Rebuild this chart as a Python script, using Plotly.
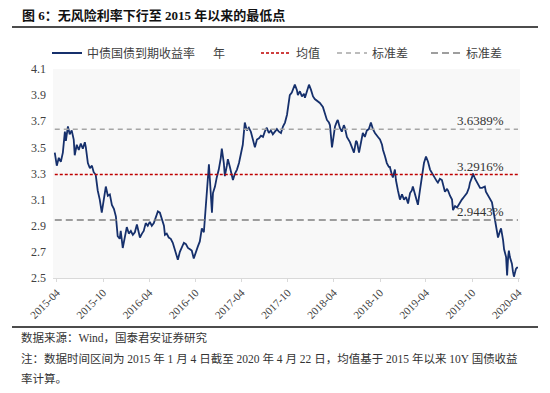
import plotly.graph_objects as go

# ---------------- data ----------------
dates = [
    "2015-03-24", "2015-03-28", "2015-04-01", "2015-04-09", "2015-04-17", "2015-04-25",
    "2015-05-03", "2015-05-07", "2015-05-15", "2015-05-22", "2015-05-30",
    "2015-06-07", "2015-06-11", "2015-06-19", "2015-06-27",
    "2015-07-05", "2015-07-13", "2015-07-21", "2015-07-25",
    "2015-08-02", "2015-08-10", "2015-08-18", "2015-08-25",
    "2015-09-02", "2015-09-10", "2015-09-18", "2015-09-22", "2015-09-26",
    "2015-10-04", "2015-10-12", "2015-10-20", "2015-10-28",
    "2015-11-05", "2015-11-13", "2015-11-21", "2015-11-28",
    "2015-12-06", "2015-12-10", "2015-12-18", "2015-12-26",
    "2016-01-03", "2016-01-11", "2016-01-19", "2016-01-27",
    "2016-02-04", "2016-02-12", "2016-02-20", "2016-02-24",
    "2016-03-03", "2016-03-10", "2016-03-18", "2016-03-26",
    "2016-04-03", "2016-04-11", "2016-04-19", "2016-04-27",
    "2016-05-05", "2016-05-13", "2016-05-21", "2016-05-29",
    "2016-06-02", "2016-06-09", "2016-06-17", "2016-06-25",
    "2016-07-03", "2016-07-11", "2016-07-19", "2016-07-23", "2016-07-31",
    "2016-08-08", "2016-08-16", "2016-08-24",
    "2016-09-01", "2016-09-09", "2016-09-16", "2016-09-24",
    "2016-10-02", "2016-10-10", "2016-10-18", "2016-10-26",
    "2016-11-03", "2016-11-11", "2016-11-15", "2016-11-23", "2016-11-27",
    "2016-12-05", "2016-12-09", "2016-12-17", "2016-12-24",
    "2017-01-01", "2017-01-09", "2017-01-13", "2017-01-21", "2017-01-25",
    "2017-02-02", "2017-02-06", "2017-02-14", "2017-02-22", "2017-02-26",
    "2017-03-06", "2017-03-14", "2017-03-22", "2017-03-29",
    "2017-04-06", "2017-04-14", "2017-04-22", "2017-04-30",
    "2017-05-08", "2017-05-16", "2017-05-24",
    "2017-06-01", "2017-06-09", "2017-06-17", "2017-06-25",
    "2017-07-02", "2017-07-10", "2017-07-18", "2017-07-26",
    "2017-08-03", "2017-08-11", "2017-08-19", "2017-08-27",
    "2017-09-04", "2017-09-12", "2017-09-20", "2017-09-28",
    "2017-10-05", "2017-10-09", "2017-10-17", "2017-10-25", "2017-10-29",
    "2017-11-06", "2017-11-10", "2017-11-18", "2017-11-26",
    "2017-12-04", "2017-12-08", "2017-12-16", "2017-12-24",
    "2018-01-01", "2018-01-09", "2018-01-16", "2018-01-28",
    "2018-02-05", "2018-02-17", "2018-02-25",
    "2018-03-05", "2018-03-13", "2018-03-17", "2018-03-25",
    "2018-04-02", "2018-04-06", "2018-04-14", "2018-04-17", "2018-04-25",
    "2018-05-03", "2018-05-11", "2018-05-15", "2018-05-23",
    "2018-06-04", "2018-06-12", "2018-06-20", "2018-06-28",
    "2018-07-02", "2018-07-10", "2018-07-18", "2018-07-25",
    "2018-08-02", "2018-08-10", "2018-08-18", "2018-08-26",
    "2018-09-03", "2018-09-11", "2018-09-23",
    "2018-10-01", "2018-10-09", "2018-10-13", "2018-10-21", "2018-10-28",
    "2018-11-05", "2018-11-09", "2018-11-17", "2018-11-21", "2018-11-29",
    "2018-12-03", "2018-12-11", "2018-12-19", "2018-12-27",
    "2019-01-04", "2019-01-12", "2019-01-20", "2019-01-28",
    "2019-02-04", "2019-02-08", "2019-02-16", "2019-02-24", "2019-02-28",
    "2019-03-08", "2019-03-16", "2019-03-24",
    "2019-04-01", "2019-04-09", "2019-04-17", "2019-04-25",
    "2019-05-03", "2019-05-07", "2019-05-14", "2019-05-18", "2019-05-26",
    "2019-06-03", "2019-06-11", "2019-06-15", "2019-06-23", "2019-06-27",
    "2019-07-05", "2019-07-13", "2019-07-17", "2019-07-25",
    "2019-08-02", "2019-08-10", "2019-08-21", "2019-08-29",
    "2019-09-10", "2019-09-18", "2019-09-22", "2019-09-30",
    "2019-10-04", "2019-10-12", "2019-10-24",
    "2019-11-01", "2019-11-09", "2019-11-20", "2019-11-24",
    "2019-12-02", "2019-12-10", "2019-12-18", "2019-12-26", "2019-12-30",
    "2020-01-07", "2020-01-11", "2020-01-19", "2020-01-23", "2020-01-31",
    "2020-02-04", "2020-02-12", "2020-02-16", "2020-02-20", "2020-02-23", "2020-02-27",
    "2020-03-06", "2020-03-10", "2020-03-14", "2020-03-22", "2020-03-26", "2020-03-30",
]

yields_10y = [
    3.46, 3.40, 3.36, 3.42, 3.39, 3.46,
    3.62, 3.55, 3.66, 3.60, 3.63,
    3.56, 3.44, 3.52, 3.48,
    3.53, 3.49, 3.54, 3.50,
    3.38, 3.34, 3.36, 3.31,
    3.29, 3.17, 3.10, 3.04, 3.00,
    3.10, 3.20, 3.13, 3.14,
    3.06, 3.03, 2.97, 2.82,
    2.80, 2.86, 2.73, 2.80,
    2.89, 2.84, 2.86, 2.83,
    2.85, 2.91, 2.85, 2.81,
    2.84, 2.86, 2.92, 2.90,
    2.93, 2.90, 2.92, 2.96,
    3.01, 3.00, 2.94, 2.90,
    2.83, 2.84, 2.81, 2.80,
    2.77, 2.72, 2.68, 2.64, 2.70,
    2.73, 2.77, 2.76,
    2.73, 2.72, 2.71, 2.65,
    2.70, 2.74, 2.78, 2.88,
    2.85, 3.05, 3.12, 3.37, 3.25,
    3.00, 3.15, 3.20, 3.27,
    3.33, 3.42, 3.49, 3.38, 3.28,
    3.36, 3.41, 3.35, 3.27, 3.25,
    3.30, 3.33, 3.38, 3.46,
    3.52, 3.69, 3.63, 3.65,
    3.62, 3.56, 3.50,
    3.56, 3.57, 3.59, 3.58,
    3.62, 3.65, 3.61, 3.63,
    3.60, 3.62, 3.64, 3.62,
    3.61, 3.66, 3.69, 3.75,
    3.86, 3.90, 3.92, 3.97, 3.98,
    3.94, 3.90, 3.93, 3.89,
    3.91, 3.88, 3.93, 3.98,
    3.94, 3.89, 3.87, 3.85,
    3.84, 3.81, 3.75,
    3.71, 3.69, 3.67, 3.50,
    3.62, 3.66, 3.70, 3.71, 3.65,
    3.62, 3.67, 3.65, 3.58,
    3.54, 3.50, 3.46, 3.55,
    3.54, 3.46, 3.55, 3.61,
    3.58, 3.63, 3.64, 3.69,
    3.64, 3.61, 3.58,
    3.56, 3.52, 3.48, 3.43, 3.38,
    3.35, 3.35, 3.29, 3.27, 3.33,
    3.25, 3.17, 3.10, 3.14,
    3.10, 3.12, 3.07, 3.15,
    3.17, 3.20, 3.14, 3.07, 3.06,
    3.17, 3.27, 3.38,
    3.43, 3.39, 3.33, 3.30,
    3.28, 3.26, 3.24, 3.23, 3.26,
    3.25, 3.19, 3.16, 3.18, 3.17,
    3.13, 3.10, 3.02, 3.05,
    3.04, 3.07, 3.10, 3.12,
    3.15, 3.19, 3.23, 3.27,
    3.30, 3.26, 3.21,
    3.19, 3.19, 3.20, 3.16,
    3.13, 3.11, 3.08, 2.99, 2.94,
    2.85, 2.81, 2.86, 2.88, 2.79,
    2.72, 2.66, 2.52, 2.66, 2.71, 2.66,
    2.61, 2.55, 2.51, 2.57, 2.58, 2.58,
]
assert len(dates) == len(yields_10y), (len(dates), len(yields_10y))

# reference levels: +1 std, mean, -1 std
level_values = [3.6389, 3.2916, 2.9443]
level_names = ["标准差", "均值", "标准差"]

series_name = "中债国债到期收益率\u3000\u2002年"

x_tick_labels = ["2015-04", "2015-10", "2016-04", "2016-10", "2017-04", "2017-10",
                 "2018-04", "2018-10", "2019-04", "2019-10", "2020-04"]
y_tick_values = [2.5, 2.7, 2.9, 3.1, 3.3, 3.5, 3.7, 3.9, 4.1]

# ---------------- layout helpers ----------------
W, H = 550, 393
L, R, T, B = 53, 520, 69, 278


def px(x):
    return (x - L) / (R - L)


def py(y):
    return (B - y) / (B - T)


SERIF = "Liberation Serif, Noto Sans CJK SC, serif"
CJK = "Noto Sans CJK SC, sans-serif"

fig = go.Figure()

# main series
fig.add_trace(go.Scatter(
    x=dates, y=yields_10y, mode="lines", name=series_name,
    line=dict(color="#16306c", width=1.8), legend="legend", showlegend=True,
))

span = [dates[0], dates[-1]]
# mean
fig.add_trace(go.Scatter(
    x=span, y=[level_values[1]] * 2, mode="lines", name=level_names[1],
    line=dict(color="#c00000", width=1.5, dash="3px,2px"), legend="legend2", showlegend=True,
))
# upper std
fig.add_trace(go.Scatter(
    x=span, y=[level_values[0]] * 2, mode="lines", name=level_names[0],
    line=dict(color="#a6a6a6", width=1.5, dash="5px,4px"), legend="legend3", showlegend=True,
))
# lower std
fig.add_trace(go.Scatter(
    x=span, y=[level_values[2]] * 2, mode="lines", name=level_names[2],
    line=dict(color="#7f7f7f", width=1.5, dash="7px,4px"), legend="legend4", showlegend=True,
))

# value labels above the level lines
label_date = "2019-11-01"
for v in level_values:
    fig.add_annotation(
        x=label_date, y=v, xref="x", yref="y", text=f"{v:.4f}%",
        showarrow=False, yanchor="bottom", xanchor="center", yshift=-1,
        font=dict(family=SERIF, size=13, color="#333333"),
    )

legend_common = dict(
    orientation="h", yanchor="middle", xanchor="left",
    bgcolor="rgba(0,0,0,0)", borderwidth=0,
    font=dict(family=CJK, size=12, color="#404040"),
    itemclick=False, itemdoubleclick=False,
)
leg_y = py(53)

# title
fig.add_annotation(
    x=px(20), y=py(15), xref="paper", yref="paper", xanchor="left", yanchor="middle",
    text="<b>图 6：无风险利率下行至 2015 年以来的最低点</b>", showarrow=False,
    font=dict(family=SERIF, size=13, color="#111111"),
)
# source & notes
notes = [
    ("数据来源：Wind，国泰君安证券研究", 337),
    ("注：数据时间区间为 2015 年 1 月 4 日截至 2020 年 4 月 22 日，均值基于 2015 年以来 10Y 国债收益", 358),
    ("率计算。", 378),
]
for txt, yy in notes:
    fig.add_annotation(
        x=px(19), y=py(yy), xref="paper", yref="paper", xanchor="left", yanchor="middle",
        text=txt, showarrow=False,
        font=dict(family=SERIF, size=11.5, color="#333333"),
    )

shapes = [
    dict(type="line", xref="paper", yref="paper", x0=px(12), x1=px(538), y0=py(27), y1=py(27),
         line=dict(color="#111111", width=1.5)),
    dict(type="line", xref="paper", yref="paper", x0=px(12), x1=px(538), y0=py(327), y1=py(327),
         line=dict(color="#111111", width=1.5)),
]

fig.update_layout(
    width=W, height=H, showlegend=True,
    margin=dict(l=L, r=W - R, t=T, b=H - B, pad=0),
    paper_bgcolor="white", plot_bgcolor="#f8f8f8",
    shapes=shapes,
    legend=dict(legend_common, x=px(47), y=leg_y),
    legend2=dict(legend_common, x=px(256), y=leg_y),
    legend3=dict(legend_common, x=px(332), y=leg_y),
    legend4=dict(legend_common, x=px(426), y=leg_y),
    xaxis=dict(
        type="date", range=["2015-03-17", "2020-04-07"],
        tickvals=[t + "-01" for t in x_tick_labels], ticktext=x_tick_labels,
        tickangle=-45, showgrid=False, zeroline=False,
        showline=True, linecolor="#d9d9d9", linewidth=1,
        ticks="outside", ticklen=3, tickcolor="#d9d9d9",
        tickfont=dict(family=SERIF, size=11, color="#404040"),
    ),
    yaxis=dict(
        range=[2.5, 4.1], tickvals=y_tick_values,
        ticktext=[f"{v:.1f}" for v in y_tick_values],
        showgrid=False, zeroline=False, showline=False, ticks="",
        ticklabelstandoff=6,
        tickfont=dict(family=SERIF, size=12, color="#404040"),
    ),
)

fig.write_html("out.html", config={"displayModeBar": False},
               post_script="document.body.style.margin='0';")
